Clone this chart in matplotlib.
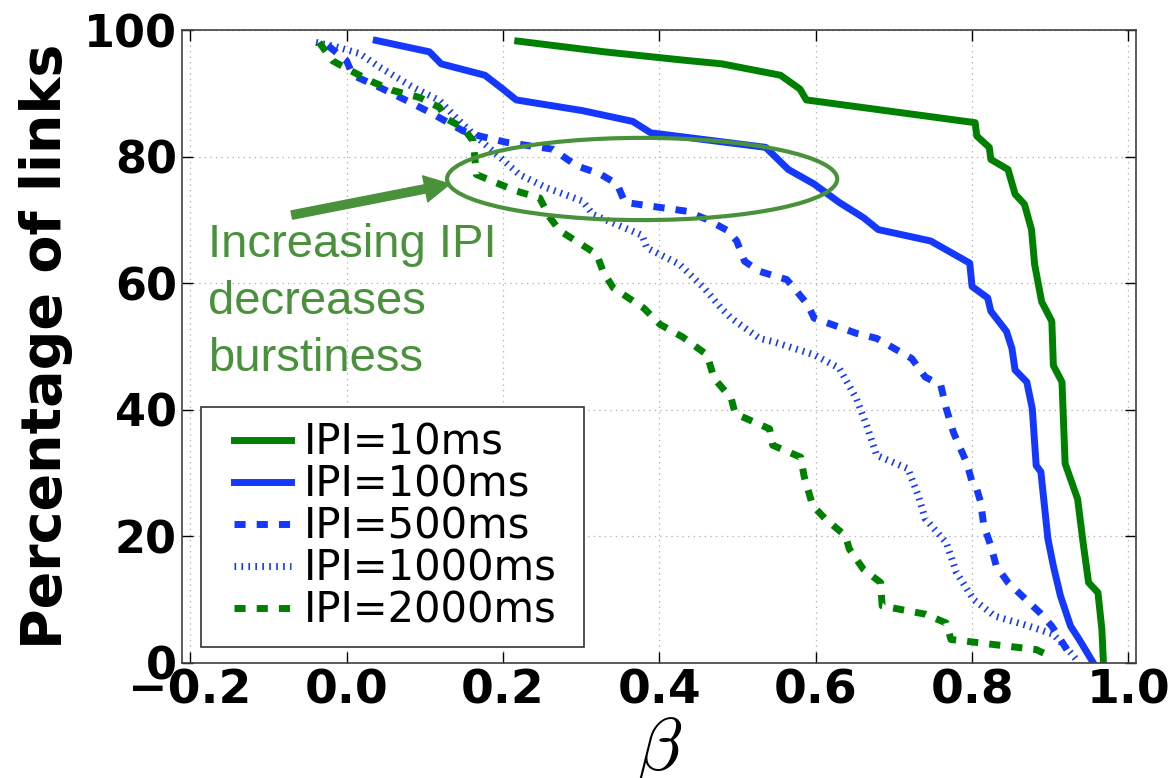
import matplotlib
matplotlib.use("Agg")
import matplotlib.pyplot as plt
from matplotlib.patches import Ellipse
from matplotlib.legend_handler import HandlerLine2D

plt.rcParams["lines.scale_dashes"] = False
plt.rcParams["mathtext.fontset"] = "cm"

# beta vs. percentage of links whose burstiness exceeds beta
beta_10 = [0.219, 0.33, 0.43, 0.48, 0.555, 0.58, 0.588, 0.804, 0.806, 0.822, 0.824, 0.846,
           0.855, 0.867, 0.876, 0.880, 0.889, 0.902, 0.904, 0.915, 0.919, 0.935, 0.942,
           0.949, 0.961, 0.966, 0.968]
pct_10 = [98.3, 96.6, 95.3, 94.7, 92.9, 90.7, 89.0, 85.4, 83.3, 81.5, 79.6, 78.0,
          74.1, 72.5, 68.5, 63.0, 57.1, 54.0, 47.0, 44.4, 31.5, 25.9, 19.0,
          12.7, 11.1, 5.3, 0.0]

beta_100 = [0.038, 0.106, 0.121, 0.177, 0.200, 0.217, 0.302, 0.366, 0.389, 0.536, 0.565,
            0.598, 0.630, 0.661, 0.680, 0.747, 0.797, 0.800, 0.820, 0.824, 0.844, 0.851,
            0.855, 0.870, 0.877, 0.882, 0.888, 0.897, 0.904, 0.913, 0.926, 0.937, 0.955]
pct_100 = [98.4, 96.6, 94.7, 92.9, 90.7, 89.0, 87.3, 85.6, 83.8, 81.5, 78.0,
           75.7, 72.8, 70.4, 68.5, 66.7, 63.2, 59.5, 57.7, 55.6, 52.4, 49.7,
           46.3, 44.4, 40.2, 31.2, 30.2, 19.6, 15.3, 10.6, 5.8, 3.7, 0.0]

beta_500 = [-0.024, 0.0, 0.008, 0.042, 0.085, 0.110, 0.149, 0.170, 0.204, 0.264, 0.294,
            0.324, 0.346, 0.356, 0.435, 0.461, 0.488, 0.499, 0.509, 0.528, 0.563, 0.576,
            0.590, 0.598, 0.652, 0.678, 0.723, 0.740, 0.760, 0.767, 0.776, 0.785, 0.793,
            0.800, 0.806, 0.811, 0.815, 0.824, 0.831, 0.846, 0.869, 0.887, 0.902, 0.913,
            0.928]
pct_500 = [97.6, 95.2, 92.9, 91.0, 88.4, 86.8, 84.1, 83.3, 82.3, 81.2, 78.6,
           77.3, 75.7, 72.8, 71.4, 70.1, 68.3, 66.7, 63.5, 61.9, 60.6, 58.7,
           56.6, 54.5, 52.1, 51.3, 48.1, 45.2, 43.9, 40.2, 36.5, 33.9, 31.7,
           28.6, 27.5, 25.4, 21.7, 18.5, 15.3, 12.7, 10.0, 7.9, 5.8, 3.7,
           0.8]

beta_1000 = [-0.039, -0.013, 0.017, 0.042, 0.085, 0.119, 0.140, 0.162, 0.192, 0.221, 0.256,
             0.302, 0.315, 0.378, 0.384, 0.426, 0.457, 0.479, 0.492, 0.528, 0.545, 0.598,
             0.630, 0.652, 0.665, 0.678, 0.718, 0.731, 0.740, 0.767, 0.780, 0.802, 0.829,
             0.873, 0.904, 0.926, 0.935]
pct_1000 = [98.1, 97.4, 96.3, 94.2, 91.0, 88.9, 86.2, 83.6, 80.4, 77.2, 75.1,
            73.0, 70.9, 67.6, 65.6, 63.0, 59.3, 56.1, 54.5, 51.3, 50.8, 48.7,
            46.6, 41.8, 37.6, 32.8, 30.7, 26.5, 22.8, 19.0, 14.3, 10.0, 7.4,
            5.8, 4.5, 1.6, 0.3]

beta_2000 = [-0.035, -0.018, 0.004, 0.034, 0.059, 0.093, 0.119, 0.128, 0.149, 0.162, 0.164,
             0.166, 0.217, 0.247, 0.260, 0.273, 0.320, 0.328, 0.341, 0.380, 0.401, 0.430,
             0.461, 0.470, 0.492, 0.497, 0.541, 0.545, 0.581, 0.585, 0.596, 0.612, 0.638,
             0.643, 0.661, 0.683, 0.685, 0.740, 0.767, 0.773, 0.882, 0.904]
pct_2000 = [98.1, 95.2, 93.7, 91.8, 90.5, 89.4, 87.8, 86.0, 84.6, 82.5, 79.9,
            77.2, 74.6, 73.5, 70.4, 68.3, 64.6, 61.9, 59.3, 56.1, 53.5, 51.5,
            48.7, 45.0, 41.8, 39.4, 37.0, 34.4, 32.5, 29.6, 24.9, 22.8, 20.1,
            18.0, 14.8, 12.7, 9.0, 7.7, 6.3, 3.7, 2.1, 0.8]

labels = ["IPI=10ms", "IPI=100ms", "IPI=500ms", "IPI=1000ms", "IPI=2000ms"]
x_ticks = [-0.2, 0.0, 0.2, 0.4, 0.6, 0.8, 1.0]
y_ticks = [0, 20, 40, 60, 80, 100]

GREEN = "#008000"
BLUE = "#1538ff"
NOTE = "#4a913c"

fig = plt.figure(figsize=(11.69, 7.78), dpi=100)
ax = fig.add_axes([0.156, 0.148, 0.816, 0.813])

lw = 5
ax.plot(beta_10, pct_10, color=GREEN, lw=lw, label=labels[0])
ax.plot(beta_100, pct_100, color=BLUE, lw=lw, label=labels[1])
ax.plot(beta_500, pct_500, color=BLUE, lw=lw, dashes=(8, 8), label=labels[2])
ax.plot(beta_1000, pct_1000, color=BLUE, lw=lw, dashes=(1.2, 3.8), label=labels[3])
ax.plot(beta_2000, pct_2000, color=GREEN, lw=lw, dashes=(8, 8), label=labels[4])

ax.set_xlim(-0.21, 1.01)
ax.set_ylim(0, 100)
ax.set_xticks(x_ticks)
ax.set_yticks(y_ticks)
ax.set_xticklabels([f"{v:.1f}".replace("-", "\u2212") for v in x_ticks],
                   fontsize=34, fontweight="bold")
ax.set_yticklabels([str(v) for v in y_ticks], fontsize=32, fontweight="bold")
ax.tick_params(direction="in", length=8, width=1, top=True, right=True, pad=4)
ax.grid(True, color="0.7", lw=0.9, dashes=(1, 3))
for s in ax.spines.values():
    s.set_color("0.25")
    s.set_linewidth(1.2)

ax.set_ylabel("Percentage of links", fontsize=40, fontweight="bold", labelpad=8)
ax.set_xlabel(r"$\beta$", fontsize=54, labelpad=0)

leg = ax.legend(loc="lower left", bbox_to_anchor=(0.0199, 0.0253, 0.4015, 0.3),
                mode="expand", borderaxespad=0, fontsize=30, fancybox=False,
                framealpha=1, edgecolor="0.2", borderpad=0.36,
                handlelength=1.8, handletextpad=0.29, labelspacing=0.0,
                handler_map={plt.Line2D: HandlerLine2D(xpad=0.43)})
leg.get_frame().set_linewidth(1.2)

# annotation: ellipse, arrow and note
ax.add_patch(Ellipse((0.378, 76.5), 0.499, 13, fill=False, ec=NOTE, lw=3, zorder=5))
ax.annotate("", xy=(0.132, 75.7), xytext=(-0.070, 70.8),
            arrowprops=dict(arrowstyle="simple,head_length=1.8,head_width=1.9,tail_width=0.6",
                            mutation_scale=10, color=NOTE, shrinkA=0, shrinkB=0),
            zorder=5)
ax.text(-0.177, 69.6, "Increasing IPI\ndecreases\nburstiness", color=NOTE,
        fontsize=34, family="Liberation Sans", va="top", ha="left", linespacing=1.39)

fig.savefig("out.png", dpi=100)
